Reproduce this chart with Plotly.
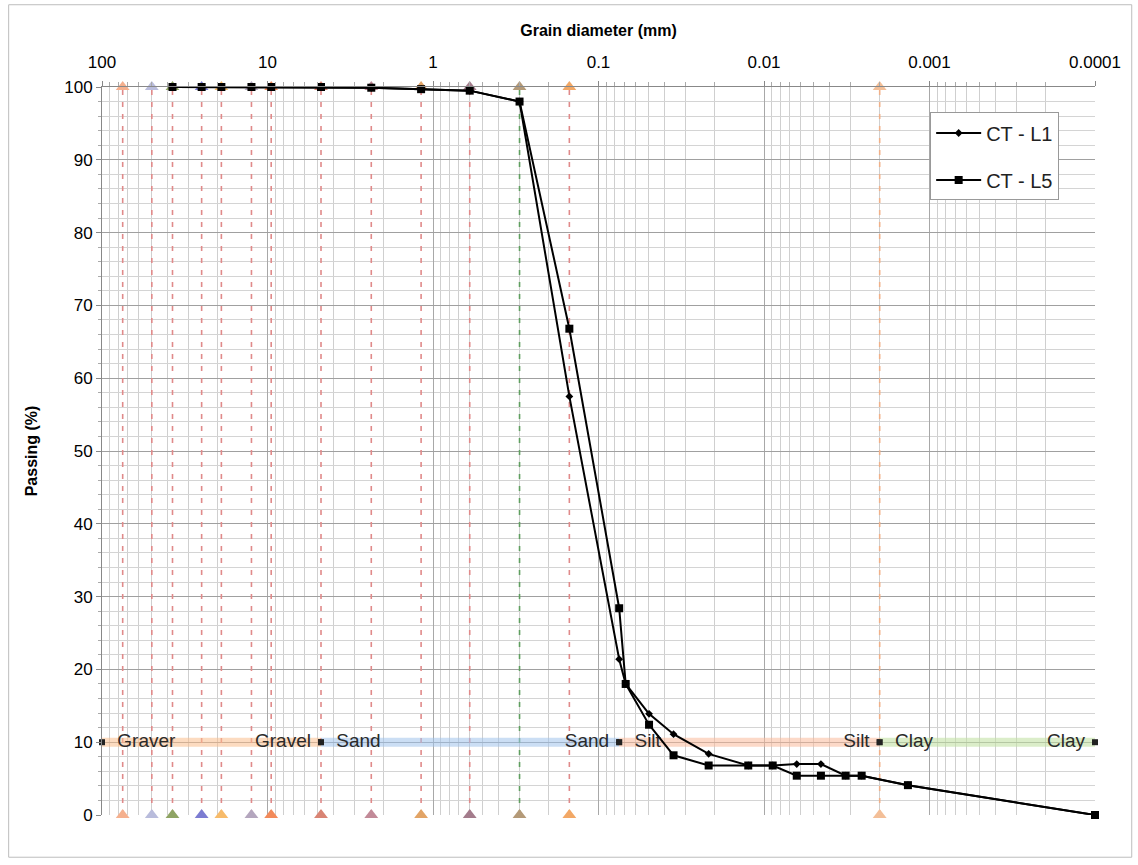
import plotly.graph_objects as go

# ---- data ----
l1_d = [37.5, 25, 19, 12.5, 9.5, 4.75, 2.36, 1.18, 0.6, 0.3, 0.15, 0.075, 0.0685,
        0.0495, 0.0352, 0.0216, 0.01245, 0.00886, 0.00634, 0.00453, 0.00321, 0.00257,
        0.00135, 0.0001]
l1_p = [100, 100, 100, 100, 100, 100, 99.9, 99.7, 99.5, 98, 57.5, 21.4, 18,
        13.9, 11.1, 8.4, 6.8, 6.8, 7.0, 7.0, 5.4, 5.4, 4.1, 0]

l5_d = [37.5, 25, 19, 12.5, 9.5, 4.75, 2.36, 1.18, 0.6, 0.3, 0.15, 0.075, 0.0685,
        0.0495, 0.0352, 0.0216, 0.01245, 0.00886, 0.00634, 0.00453, 0.00321, 0.00257,
        0.00135, 0.0001]
l5_p = [100, 100, 100, 100, 100, 100, 99.9, 99.7, 99.5, 98, 66.8, 28.4, 18,
        12.4, 8.2, 6.8, 6.8, 6.8, 5.4, 5.4, 5.4, 5.4, 4.1, 0]

sieve_sizes = [75, 50, 37.5, 25, 19, 12.5, 9.5, 4.75, 2.36, 1.18, 0.6, 0.3, 0.15, 0.002]
sieve_tri_colors = ["#f5b08e", "#b9bcdc", "#8fa464", "#7c7cd2", "#f7bb6a", "#b4a6be",
                    "#f28a5a", "#d98474", "#c28a98", "#e2a466", "#a47c8c", "#b49a78",
                    "#f2a866", "#f3bf98"]
sieve_line_colors = ["#e08a8a"] * 11 + ["#5f9f5f", "#e08a8a", "#f0b088"]

bands = [
    ("Graver", "Gravel", 100, 4.75, "rgba(250,190,140,0.55)"),
    ("Sand", "Sand", 4.75, 0.075, "rgba(160,195,235,0.55)"),
    ("Silt", "Silt", 0.075, 0.002, "rgba(250,185,155,0.55)"),
    ("Clay", "Clay", 0.002, 0.0001, "rgba(195,225,165,0.6)"),
]
band_level = 10

x_tickvals = [100, 10, 1, 0.1, 0.01, 0.001, 0.0001]
x_ticktext = ["100", "10", "1", "0.1", "0.01", "0.001", "0.0001"]
y_tickvals = list(range(0, 101, 10))

FONT = "Liberation Sans, Arial, sans-serif"

fig = go.Figure()

# vertical sieve lines with triangles
for d, tc, lc in zip(sieve_sizes, sieve_tri_colors, sieve_line_colors):
    fig.add_trace(go.Scatter(x=[d, d], y=[0, 100], mode="lines",
                             line=dict(color=lc, width=1.6, dash="5px,7px"),
                             showlegend=False, hoverinfo="skip"))
    fig.add_trace(go.Scatter(x=[d, d], y=[0, 100], mode="markers",
                             marker=dict(symbol="triangle-up", size=12, color=tc),
                             cliponaxis=False,
                             showlegend=False, hoverinfo="skip"))

# soil bands
for t0, t1, a, b, col in bands:
    fig.add_trace(go.Scatter(x=[a, b], y=[band_level, band_level], mode="lines",
                             line=dict(color=col, width=9),
                             showlegend=False, hoverinfo="skip"))
    fig.add_trace(go.Scatter(x=[a, b], y=[band_level, band_level], mode="markers+text",
                             marker=dict(symbol="square", size=6, color="#222"),
                             text=["  " + t0, t1 + " "],
                             textposition=["middle right", "middle left"],
                             textfont=dict(family=FONT, size=19, color="#2a2a2a"),
                             cliponaxis=False,
                             showlegend=False, hoverinfo="skip"))

# data series
fig.add_trace(go.Scatter(x=l1_d, y=l1_p, mode="lines+markers", name="CT - L1",
                         line=dict(color="black", width=2),
                         marker=dict(symbol="diamond", size=6, color="black"),
                         cliponaxis=False, legendgroup="a"))
fig.add_trace(go.Scatter(x=l5_d, y=l5_p, mode="lines+markers", name="CT - L5",
                         line=dict(color="black", width=2),
                         marker=dict(symbol="square", size=8, color="black"),
                         cliponaxis=False, legendgroup="b"))

fig.update_layout(
    width=1138, height=865,
    margin=dict(l=102, r=43, t=87, b=50),
    paper_bgcolor="white", plot_bgcolor="white",
    font=dict(family=FONT, size=17, color="black"),
    showlegend=True,
    legend=dict(x=0.834, y=0.965, xanchor="left", yanchor="top",
                bgcolor="white", bordercolor="#999", borderwidth=1,
                font=dict(family=FONT, size=20, color="#222"),
                tracegroupgap=18, itemwidth=45),
    shapes=[dict(type="rect", xref="paper", yref="paper",
                 x0=-0.094, x1=1.037, y0=-0.058, y1=1.113,
                 line=dict(color="#bdbdbd", width=1), layer="below")],
)

fig.update_xaxes(
    type="log", side="top", range=[2, -4],
    tickvals=x_tickvals, ticktext=x_ticktext,
    ticks="outside", ticklen=5, tickcolor="#888",
    ticklabelstandoff=6,
    showgrid=True, gridcolor="#a8a8a8", gridwidth=1,
    minor=dict(dtick="D1", showgrid=True, gridcolor="#cfcfcf", gridwidth=1,
               ticks="outside", ticklen=4, tickcolor="#aaa"),
    showline=True, linecolor="#888", linewidth=1, mirror=False,
    zeroline=False,
    tickfont=dict(family=FONT, size=17, color="black"),
    title=dict(text="<b>Grain diameter (mm)</b>", standoff=12,
               font=dict(family=FONT, size=16, color="black")),
)
fig.update_yaxes(
    range=[0, 100], tickvals=y_tickvals,
    ticks="outside", ticklen=5, tickcolor="#888",
    showgrid=True, gridcolor="#a0a0a0", gridwidth=1.2,
    minor=dict(dtick=2, showgrid=True, gridcolor="#d4d4d4", gridwidth=1,
               ticks="outside", ticklen=3, tickcolor="#aaa"),
    showline=True, linecolor="#888", linewidth=1,
    zeroline=False,
    tickfont=dict(family=FONT, size=17, color="black"),
    title=dict(text="<b>Passing (%)</b>", standoff=22,
               font=dict(family=FONT, size=16, color="black")),
)

fig.write_html("out.html")
